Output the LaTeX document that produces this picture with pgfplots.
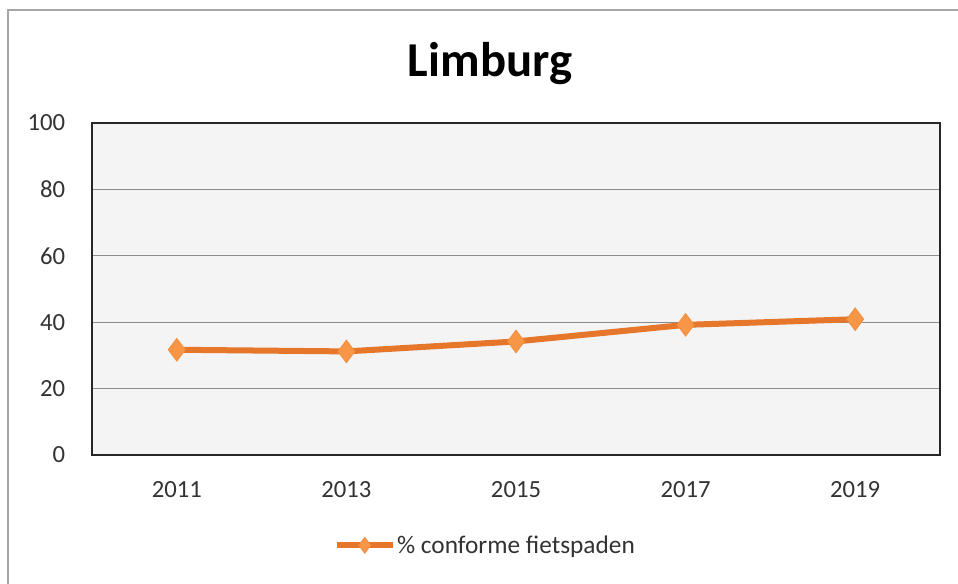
\documentclass[border=0pt]{standalone}
\usepackage{pgfplots}
\pgfplotsset{compat=1.18}
\usepackage{fontspec}
\setmainfont{Carlito}
\definecolor{serline}{HTML}{E5762A}
\definecolor{serfill}{HTML}{F79646}
\definecolor{gridc}{HTML}{8C8C8C}
\definecolor{framec}{HTML}{A6A6A6}
\definecolor{bgc}{HTML}{F4F4F4}
\definecolor{labc}{HTML}{333333}
\begin{document}
\begin{tikzpicture}
\useasboundingbox (0pt,0pt) rectangle (718.5pt,437.25pt);
\fill[white] (0pt,0pt) rectangle (718.5pt,437.25pt);
\draw[framec, line width=1.5pt] (6pt,-15pt) -- (6pt,429.75pt) -- (745pt,429.75pt);
\node[anchor=base, font=\fontsize{36.5}{40}\selectfont\bfseries] at (367.5pt,379.5pt) {Limburg};
\begin{axis}[
  at={(69pt,96pt)}, anchor=south west,
  scale only axis, width=636pt, height=249pt,
  xmin=2010, xmax=2020, ymin=0, ymax=100,
  xtick={2011,2013,2015,2017,2019},
  ytick={0,20,40,60,80,100},
  ymajorgrids,
  major grid style={color=gridc, line width=0.8pt},
  axis background/.style={fill=bgc},
  axis line style={draw=black!85, line width=1.1pt},
  tick style={draw=none},
  /pgf/number format/1000 sep={},
  /pgf/number format/assume math mode=true,
  tick label style={font=\fontsize{18.5}{22}\selectfont, text=labc},
  yticklabel style={inner sep=0pt, xshift=-20pt},
  xticklabel style={inner sep=0pt, yshift=-20pt},
  legend style={at={(0.4634,-0.272)}, anchor=center, draw=none, fill=none,
    font=\fontsize{19}{22}\selectfont, text=labc,
    nodes={inner sep=1pt}},
  legend cell align=left,
  legend image code/.code={\draw[mark repeat=2,mark phase=2,#1, mark size=6pt] plot coordinates {(0pt,0pt) (21pt,0pt) (42pt,0pt)};},
]
\addplot[color=serline, line width=4.5pt, mark=diamond*, mark size=8.5pt,
  mark options={fill=serfill, draw=serfill!80!serline, line width=0.6pt}]
  coordinates {(2011,31.7) (2013,31.2) (2015,34.2) (2017,39.2) (2019,40.9)};
\addlegendentry{\% conforme fietspaden}
\end{axis}
\end{tikzpicture}
\end{document}
